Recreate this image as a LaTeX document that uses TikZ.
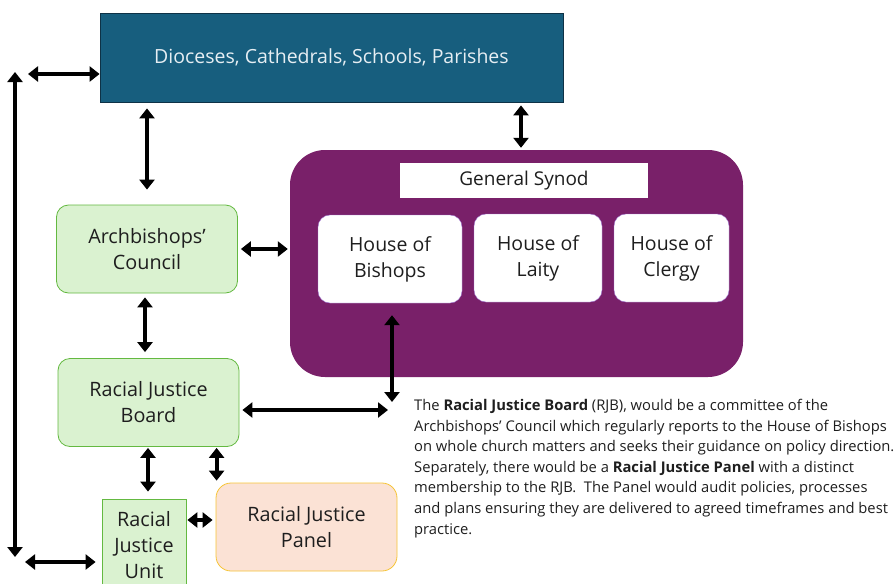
\documentclass[tikz,border=0pt]{standalone}
\usepackage{fontspec}
\setmainfont{Open Sans}
\usetikzlibrary{positioning,arrows.meta,calc}

\definecolor{dioblue}{RGB}{23,94,126}
\definecolor{dioline}{RGB}{14,50,70}
\definecolor{dioword}{RGB}{230,238,243}
\definecolor{synpurple}{RGB}{121,32,105}
\definecolor{houseline}{RGB}{160,120,210}
\definecolor{leafgreen}{RGB}{218,242,208}
\definecolor{leafline}{RGB}{100,185,65}
\definecolor{peach}{RGB}{251,226,213}
\definecolor{peachline}{RGB}{246,196,54}
\definecolor{ink}{RGB}{30,30,30}

\begin{document}
\begin{tikzpicture}[x=1pt,y=-1pt
% Box styles
		, topbox/.style={rectangle
							    , fill=dioblue
							    , draw=dioline, thick
							    , minimum width=463pt
							    , minimum height=89pt
							    , text=dioword
							    , font=\fontsize{19.5}{22}\selectfont}
		, leaf/.style={rectangle
							    , rounded corners=12pt
							    , fill=leafgreen
							    , draw=leafline, thick
							    , minimum width=181pt
							    , minimum height=88pt
							    , text=ink
							    , align=center
							    , font=\fontsize{19.8}{26}\selectfont}
		, panel/.style={leaf
							    , rounded corners=15pt
							    , fill=peach
							    , draw=peachline}
		, synod/.style={rectangle
							    , rounded corners=35pt
							    , fill=synpurple
							    , draw=none
							    , minimum width=453pt
							    , minimum height=227pt}
		, house/.style={rectangle
							    , rounded corners=12pt
							    , fill=white
							    , draw=houseline
							    , minimum height=88pt
							    , text=ink
							    , align=center
							    , font=\fontsize{19.5}{26}\selectfont}
		, label/.style={rectangle
							    , fill=white
							    , minimum width=248pt
							    , minimum height=35pt
							    , text=ink
							    , font=\fontsize{19}{20}\selectfont}
% Arrow style
		, dbl/.style={{Triangle[width=15pt,length=10pt]}-{Triangle[width=15pt,length=10pt]}
							    , line width=4pt
							    , draw=black}
	]
\useasboundingbox (0,0) rectangle (895,584);
\clip (0,0) rectangle (895,584);

%% Boxes
	\node [topbox] (dio) at (331.5,57.5) {Dioceses, Cathedrals, Schools, Parishes};
	\node [leaf] (abc) at (147,249) {Archbishops’\\Council};
	\node [leaf] (rjb) at (148.5,402.5) {Racial Justice\\Board};
	\node [leaf, rounded corners=0pt, minimum width=84pt, minimum height=92pt] (rju) at (144,545) {Racial\\Justice\\Unit};
	\node [panel] (rjp) at (306.5,527) {Racial Justice\\Panel};

%% General Synod
	\node [synod] (gs) at (516.5,263.5) {};
	\node [label] (gsl) at (524,180.5) {General Synod};
	\node [house, minimum width=144pt] (hb) at (390,259) {House of\\Bishops};
	\node [house, minimum width=128pt] (hl) at (538,258) {House of\\Laity};
	\node [house, minimum width=115pt] (hc) at (671.5,258) {House of\\Clergy};

%% Note
	\node [anchor=north west, inner sep=0pt, align=left, text=ink
			, font=\fontsize{14.75}{20.6}\selectfont] (note) at (414,399)
		{The \textbf{Racial Justice Board} (RJB), would be a committee of the\\
		 Archbishops’ Council which regularly reports to the House of Bishops\\
		 on whole church matters and seeks their guidance on policy direction.\\
		 Separately, there would be a \textbf{Racial Justice Panel} with a distinct\\
		 membership to the RJB.\ \ The Panel would audit policies, processes\\
		 and plans ensuring they are delivered to agreed timeframes and best\\
		 practice.};

%% Connectors
	\coordinate (lt) at (15,72);
	\coordinate (lb) at (15,557);
	\coordinate (ht) at (28,74);
	\coordinate (hd) at (25,562);
	\coordinate (jn) at (392,410);
	\begin{scope}[dbl]
		\draw (lt) -- (lb);
		\draw (ht) -- (ht -| dio.west);
		\draw (hd) -- ($(hd -| rju.west)+(-6,0)$);
		\draw [shorten <=6pt, shorten >=15pt] (abc.north |- dio.south) -- (abc.north);
		\draw [shorten <=3pt, shorten >=2pt] ($(dio.south)+(189.5,0)$) -- ($(gs.north)+(4.5,0)$);
		\draw [shorten <=3pt, shorten >=2pt] (abc.east) -- (gs.west |- abc.east);
		\draw [shorten <=4pt, shorten >=6pt] ($(abc.south)+(-2,0)$) -- ($(rjb.north)+(-3.5,0)$);
		\draw [shorten <=3pt, shorten >=4pt] (rjb.east |- jn) -- (jn);
		\draw [shorten <=12pt, shorten >=8pt] ($(hb.south)+(2,0)$) -- (jn);
		\draw [shorten <=1pt, shorten >=7pt] ($(rjb.south -| rju.north)+(4,0)$) -- ($(rju.north)+(4,0)$);
		\draw [shorten <=1pt, shorten >=2pt] ($(rjb.south -| rjp.west)+(1,0)$) -- ($(rjp.north west)+(1,0)$);
		\draw [shorten <=1pt, shorten >=3pt] ($(rju.east |- rjp.west)+(0,-7)$) -- ($(rjp.west)+(0,-7)$);
	\end{scope}
\end{tikzpicture}
\end{document}
